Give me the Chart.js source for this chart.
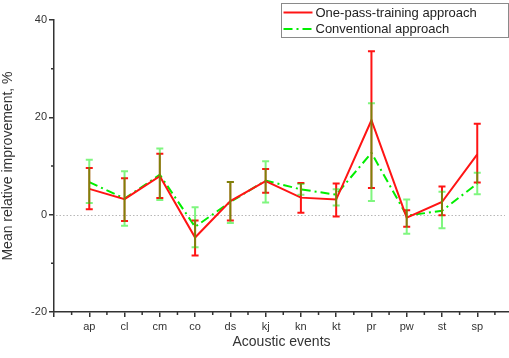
<!DOCTYPE html>
<html>
<head>
<meta charset="utf-8">
<script src="https://cdn.jsdelivr.net/npm/chart.js@4.4.1/dist/chart.umd.min.js"></script>
<style>
  html, body { margin: 0; padding: 0; background: #fff; }
</style>
</head>
<body>
<canvas id="chart" width="509" height="358"></canvas>
<script>
const categories = ['ap', 'cl', 'cm', 'co', 'ds', 'kj', 'kn', 'kt', 'pr', 'pw', 'st', 'sp'];

const onePass   = [5.3, 3.2, 7.9, -4.7, 2.8, 6.9, 3.5, 3.1, 19.4, -0.6, 2.6, 12.4];
const onePassHi = [9.6, 7.5, 12.5, -1.2, 6.7, 9.4, 6.5, 6.4, 33.6, 0.9, 5.8, 18.7];
const onePassLo = [1.1, -1.3, 3.4, -8.4, -1.2, 4.5, 0.4, -0.4, 5.5, -2.5, -0.1, 6.6];

const conventional   = [6.7, 3.3, 8.2, -2.5, 2.6, 7.0, 5.2, 4.1, 12.7, -0.2, 0.8, 6.4];
const conventionalHi = [11.3, 8.9, 13.6, 1.5, 6.7, 11.0, 6.3, 5.2, 22.9, 3.1, 4.7, 8.6];
const conventionalLo = [2.4, -2.3, 3.0, -6.7, -1.7, 2.5, 4.1, 1.9, 2.8, -3.9, -2.8, 4.2];

const yTicks = [-20, 0, 20, 40];
const yMinorTicks = [-10, 10, 30];

const RED = '#ff1414';
const GREEN = '#00ee00';
const AXIS = '#333';
const FONT = 'Liberation Sans, Arial, sans-serif';

const toPoints = vals => vals.map((v, i) => ({ x: i + 1, y: v }));

// zero reference line + minor ticks
const decorPlugin = {
  id: 'decor',
  beforeDatasetsDraw(chart) {
    const { ctx, chartArea, scales } = chart;
    const y0 = Math.round(scales.y.getPixelForValue(0)) + 0.5;
    ctx.save();
    ctx.strokeStyle = '#b8b8b8';
    ctx.lineWidth = 1;
    ctx.setLineDash([1.5, 2]);
    ctx.beginPath();
    ctx.moveTo(chartArea.left + 2, y0);
    ctx.lineTo(chartArea.right - 4, y0);
    ctx.stroke();
    ctx.restore();
  },
  afterDraw(chart) {
    const { ctx, chartArea, scales } = chart;
    ctx.save();
    ctx.strokeStyle = AXIS;
    ctx.lineWidth = 1.5;
    ctx.beginPath();
    for (let i = 0; i < categories.length + 1; i++) {
      const px = scales.x.getPixelForValue(i + 0.5);
      if (px > chartArea.right) continue;
      ctx.moveTo(px, chartArea.bottom);
      ctx.lineTo(px, chartArea.bottom + 3);
    }
    yMinorTicks.forEach(v => {
      const py = scales.y.getPixelForValue(v);
      ctx.moveTo(chartArea.left, py);
      ctx.lineTo(chartArea.left - 3, py);
    });
    ctx.stroke();
    ctx.restore();
  }
};

// error bars drawn through the scales
function drawBars(chart, hi, lo, color, alpha) {
  const { ctx, scales } = chart;
  ctx.save();
  ctx.globalAlpha = alpha;
  ctx.strokeStyle = color;
  ctx.lineWidth = 2;
  ctx.setLineDash([]);
  hi.forEach((h, i) => {
    const px = scales.x.getPixelForValue(i + 1);
    const pt = scales.y.getPixelForValue(h);
    const pb = scales.y.getPixelForValue(lo[i]);
    ctx.beginPath();
    ctx.moveTo(px, pt);
    ctx.lineTo(px, pb);
    ctx.moveTo(px - 3.5, pt);
    ctx.lineTo(px + 3.5, pt);
    ctx.moveTo(px - 3.5, pb);
    ctx.lineTo(px + 3.5, pb);
    ctx.stroke();
  });
  ctx.restore();
}

const errorBarPlugin = {
  id: 'errorBars',
  afterDatasetsDraw(chart) {
    drawBars(chart, onePassHi, onePassLo, RED, 1);
    drawBars(chart, conventionalHi, conventionalLo, GREEN, 0.5);
  }
};

// boxed legend in the top right corner
const legendPlugin = {
  id: 'boxLegend',
  afterDraw(chart) {
    const { ctx } = chart;
    const x = 281.5, y = 3.5, w = 227, h = 34;
    ctx.save();
    ctx.fillStyle = '#fff';
    ctx.fillRect(x, y, w, h);
    ctx.strokeStyle = '#8a8a8a';
    ctx.lineWidth = 1;
    ctx.strokeRect(x, y, w, h);
    chart.data.datasets.forEach((ds, i) => {
      const ly = y + 9 + i * 16.5;
      ctx.strokeStyle = ds.borderColor;
      ctx.lineWidth = 2;
      ctx.setLineDash(ds.borderDash || []);
      ctx.beginPath();
      ctx.moveTo(x + 2, ly);
      ctx.lineTo(x + 31, ly);
      ctx.stroke();
      ctx.setLineDash([]);
      ctx.fillStyle = '#222';
      ctx.font = '13px ' + FONT;
      ctx.textBaseline = 'middle';
      ctx.fillText(ds.label, x + 34, ly + 0.5);
    });
    ctx.restore();
  }
};

new Chart(document.getElementById('chart'), {
  type: 'line',
  data: {
    datasets: [
      {
        label: 'One-pass-training approach',
        data: toPoints(onePass),
        borderColor: RED,
        borderWidth: 2,
        pointRadius: 0,
        tension: 0
      },
      {
        label: 'Conventional approach',
        data: toPoints(conventional),
        borderColor: GREEN,
        borderWidth: 2,
        borderDash: [9, 4, 2, 4],
        pointRadius: 0,
        tension: 0
      }
    ]
  },
  options: {
    responsive: false,
    animation: false,
    layout: { padding: { top: 20, right: 0, left: 0, bottom: 0 } },
    plugins: {
      legend: { display: false },
      tooltip: { enabled: false }
    },
    scales: {
      x: {
        type: 'linear',
        min: 0,
        max: 12.9,
        border: { color: AXIS, width: 1.5 },
        grid: { drawOnChartArea: false, tickLength: 5, color: AXIS, lineWidth: 1.5 },
        ticks: {
          stepSize: 1,
          includeBounds: false,
          autoSkip: false,
          maxRotation: 0,
          padding: 3,
          color: '#333',
          font: { family: FONT, size: 11 },
          callback: v => categories[v - 1] || ''
        },
        title: {
          display: true,
          text: 'Acoustic events',
          color: '#333',
          font: { family: FONT, size: 14 },
          padding: { top: 2, bottom: 7 }
        },
        afterFit: s => { s.height = 46; }
      },
      y: {
        min: -20,
        max: 40,
        border: { color: AXIS, width: 1.5 },
        grid: { drawOnChartArea: false, tickLength: 5, color: AXIS, lineWidth: 1.5 },
        afterBuildTicks: s => { s.ticks = yTicks.map(v => ({ value: v })); },
        ticks: {
          padding: 2,
          color: '#333',
          font: { family: FONT, size: 11 }
        },
        title: {
          display: true,
          text: 'Mean relative improvement, %',
          color: '#333',
          font: { family: FONT, size: 14 },
          padding: { top: 0, bottom: 0 }
        },
        afterFit: s => { s.width = 54; }
      }
    }
  },
  plugins: [decorPlugin, errorBarPlugin, legendPlugin]
});
</script>
</body>
</html>
